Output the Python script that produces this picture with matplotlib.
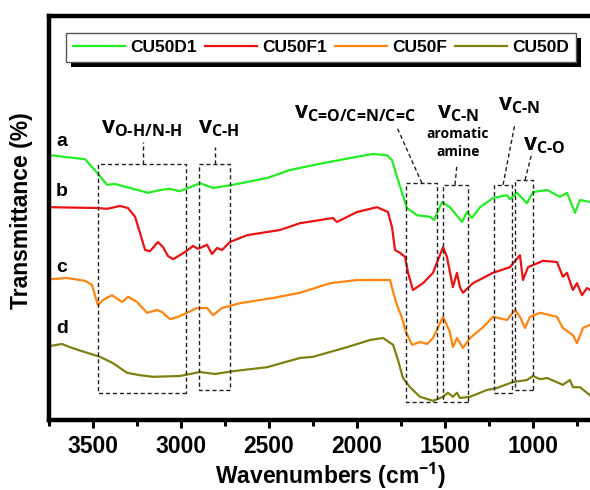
import matplotlib
matplotlib.use("Agg")
import matplotlib.pyplot as plt
from matplotlib.patches import Rectangle
from matplotlib.ticker import MultipleLocator

plt.rcParams["font.family"] = "Liberation Sans"
plt.rcParams["font.weight"] = "bold"
plt.rcParams["mathtext.fontset"] = "custom"
plt.rcParams["mathtext.rm"] = "Open Sans"
plt.rcParams["mathtext.it"] = "Open Sans:italic"
plt.rcParams["mathtext.bf"] = "Open Sans:bold"

# FTIR spectra, wavenumber (cm-1) vs transmittance (offset, arbitrary %)
wn_a = [3744, 3545, 3477, 3420, 3375, 3307, 3187, 3119, 3062, 3006, 2892, 2818,
        2705, 2511, 2381, 2194, 2000, 1909, 1830, 1801, 1773, 1744, 1716, 1659,
        1585, 1562, 1517, 1472, 1403, 1375, 1347, 1301, 1227, 1148, 1131, 1091,
        1034, 1000, 920, 847, 807, 761, 733, 676]
t_a = [66.2, 65.2, 61.8, 58.8, 59.0, 58.2, 56.8, 57.5, 57.8, 57.2, 59.2, 58.0,
       58.8, 60.5, 62.5, 64.2, 65.8, 66.5, 66.2, 65.0, 60.8, 56.8, 53.0, 51.2,
       50.8, 50.0, 54.5, 53.2, 49.5, 52.0, 50.5, 53.2, 55.5, 56.2, 55.2, 56.8,
       54.2, 57.0, 57.5, 55.8, 56.8, 51.8, 55.0, 54.5]

wn_b = [3744, 3477, 3420, 3347, 3301, 3261, 3233, 3204, 3176, 3131, 3102, 3074,
        3045, 2977, 2932, 2903, 2852, 2824, 2795, 2767, 2722, 2625, 2511, 2437,
        2324, 2136, 2114, 2000, 1886, 1824, 1801, 1784, 1756, 1727, 1710, 1682,
        1625, 1568, 1540, 1511, 1489, 1455, 1432, 1415, 1398, 1341, 1227, 1131,
        1074, 1057, 1028, 943, 864, 830, 807, 773, 750, 722, 693, 676]
t_b = [53.2, 53.0, 52.8, 53.5, 53.0, 50.8, 46.8, 42.5, 42.2, 44.5, 43.2, 41.0,
       40.2, 42.0, 43.5, 42.8, 43.8, 41.5, 43.0, 42.5, 44.5, 46.2, 47.0, 47.5,
       49.2, 50.5, 49.5, 52.0, 53.2, 52.0, 48.2, 42.5, 41.8, 40.8, 36.8, 32.5,
       34.2, 36.8, 40.0, 43.2, 40.8, 33.2, 36.8, 33.2, 31.8, 34.2, 36.8, 38.2,
       41.2, 35.0, 38.2, 39.8, 39.5, 35.8, 36.8, 32.5, 34.2, 31.2, 33.0, 32.5]

wn_c = [3744, 3648, 3545, 3506, 3489, 3472, 3443, 3392, 3335, 3301, 3250, 3193,
        3136, 3108, 3062, 3017, 2966, 2909, 2852, 2818, 2767, 2665, 2477, 2324,
        2153, 2000, 1812, 1795, 1773, 1744, 1722, 1687, 1642, 1602, 1568, 1511,
        1472, 1455, 1432, 1398, 1358, 1284, 1227, 1148, 1102, 1074, 1045, 1017,
        960, 864, 830, 773, 750, 716, 676]
t_c = [35.2, 35.5, 34.8, 33.8, 31.2, 28.8, 30.0, 31.2, 29.5, 30.8, 29.5, 26.8,
       27.5, 27.0, 25.2, 25.8, 26.8, 28.0, 28.0, 26.2, 28.0, 29.2, 30.5, 31.8,
       34.2, 35.0, 35.0, 32.0, 28.8, 25.5, 22.0, 18.8, 19.5, 19.0, 20.5, 25.8,
       22.0, 18.2, 20.5, 18.0, 20.5, 23.2, 25.8, 25.0, 27.5, 25.8, 23.0, 25.8,
       26.8, 25.8, 23.0, 21.2, 19.2, 23.0, 23.8]

wn_d = [3744, 3676, 3631, 3534, 3460, 3386, 3307, 3233, 3159, 3006, 2892, 2807,
        2705, 2511, 2324, 2250, 2057, 1926, 1852, 1795, 1767, 1739, 1699, 1642,
        1568, 1511, 1483, 1455, 1432, 1415, 1358, 1261, 1205, 1114, 1034, 1000,
        960, 920, 830, 790, 773, 733, 676]
t_d = [18.5, 19.0, 18.2, 16.8, 15.8, 14.2, 11.8, 11.2, 10.8, 11.0, 12.0, 11.5,
       12.2, 13.2, 15.5, 15.8, 18.2, 20.0, 20.5, 18.8, 15.0, 10.5, 8.2, 5.8,
       4.8, 5.8, 6.8, 5.8, 6.8, 5.5, 5.8, 7.5, 8.0, 9.5, 10.0, 11.0,
       10.2, 10.5, 8.8, 10.0, 8.2, 8.2, 6.2]

names = ["CU50D1", "CU50F1", "CU50F", "CU50D"]
tags = ["a", "b", "c", "d"]
tag_t = [69.5, 57.0, 38.2, 23.0]
colors = ["#22ee22", "#ee1111", "#ff8410", "#808010"]

# band regions: (high wn, low wn, bottom, top)
band_boxes = [(3472, 2972, 6.8, 64.0), (2898, 2722, 7.5, 64.0),
              (1722, 1545, 4.5, 59.2), (1511, 1369, 4.5, 58.8),
              (1222, 1119, 6.8, 58.8), (1102, 1000, 7.5, 60.0)]
# leader from box top to label: (wn0, t0, wn1, t1)
leaders = [(3216, 64.0, 3216, 69.5), (2807, 64.0, 2807, 68.2),
           (1631, 59.2, 1773, 73.2), (1443, 58.8, 1432, 63.8),
           (1170, 58.8, 1102, 74.2), (1045, 60.0, 1006, 66.8)]
band_labels = [r"$\mathrm{v}_{\text{O-H/N-H}}$", r"$\mathrm{v}_{\text{C-H}}$",
               r"$\mathrm{v}_{\text{C=O/C=N/C=C}}$", r"$\mathrm{v}_{\text{C-N}}$",
               r"$\mathrm{v}_{\text{C-N}}$", r"$\mathrm{v}_{\text{C-O}}$"]
label_pos = [(3227, 73.2), (2784, 73.2), (2011, 77.0), (1426, 77.0),
             (1080, 78.8), (937, 69.0)]

fig = plt.figure(figsize=(5.9, 4.9), dpi=100)
ax = fig.add_axes([49 / 590, 70 / 490, 541 / 590, 404 / 490])
ax.patch.set_visible(False)

series = [(wn_a, t_a), (wn_b, t_b), (wn_c, t_c), (wn_d, t_d)]
for (x, y), name, col in zip(series, names, colors):
    ax.plot(x, y, color=col, lw=1.6, label=name)

for tag, ty in zip(tags, tag_t):
    ax.text(3676, ty, tag, fontsize=14, fontweight="bold", ha="center", va="center")

for hi, lo, bot, top in band_boxes:
    ax.add_patch(Rectangle((lo, bot), hi - lo, top - bot, fill=False,
                           ec="#222222", lw=1.0, ls=(0, (3, 2)), zorder=4))
for x0, y0, x1, y1 in leaders:
    ax.plot([x0, x1], [y0, y1], color="#222222", lw=1.0, ls=(0, (3, 2)), zorder=4)
for lab, (lx, ly) in zip(band_labels, label_pos):
    ax.text(lx, ly, lab, fontsize=16.5, ha="center", va="center")
ax.text(1426, 71.5, "aromatic", fontsize=10, family="Open Sans", weight="bold",
        ha="center", va="center")
ax.text(1426, 67.0, "amine", fontsize=10, family="Open Sans", weight="bold",
        ha="center", va="center")

ax.set_xlim(3750, 676)
ax.set_ylim(0, 101)
ax.xaxis.set_major_locator(MultipleLocator(500))
ax.xaxis.set_minor_locator(MultipleLocator(250))
ax.set_yticks([])
ax.spines["right"].set_visible(False)
for s in ["left", "top", "bottom"]:
    ax.spines[s].set_linewidth(3.2)
ax.tick_params(axis="x", which="major", length=6, width=2.2, pad=5, labelsize=16.5)
ax.tick_params(axis="x", which="minor", length=4, width=2.2)

ax.set_xlabel("Wavenumbers (cm$^{\\mathbf{-1}}$)", fontsize=16.5, fontweight="bold")
ax.xaxis.set_label_coords((331 - 49) / 541, -(461 - 420) / 404)
ax.set_ylabel("Transmittance (%)", fontsize=16.5, fontweight="bold")
ax.yaxis.set_label_coords(-(49 - 33) / 541, (420 - 211) / 404)

leg = ax.legend(loc="upper center", bbox_to_anchor=((321 - 49) / 541, (420 - 24) / 404),
                ncol=4, fontsize=12.5, handlelength=3.0, handletextpad=0.3,
                columnspacing=0.45, borderpad=0.4, fancybox=False,
                edgecolor="#555555", framealpha=1)
leg.get_frame().set_linewidth(1.0)

# solid drop shadow behind the legend box
fig.canvas.draw()
bb = leg.get_window_extent()
shadow = Rectangle((bb.x0 + 5, bb.y0 - 5), bb.width, bb.height, transform=None,
                   fc="black", ec="none", zorder=4.9, clip_on=False)
ax.add_artist(shadow)

fig.savefig("out.png", dpi=100)
